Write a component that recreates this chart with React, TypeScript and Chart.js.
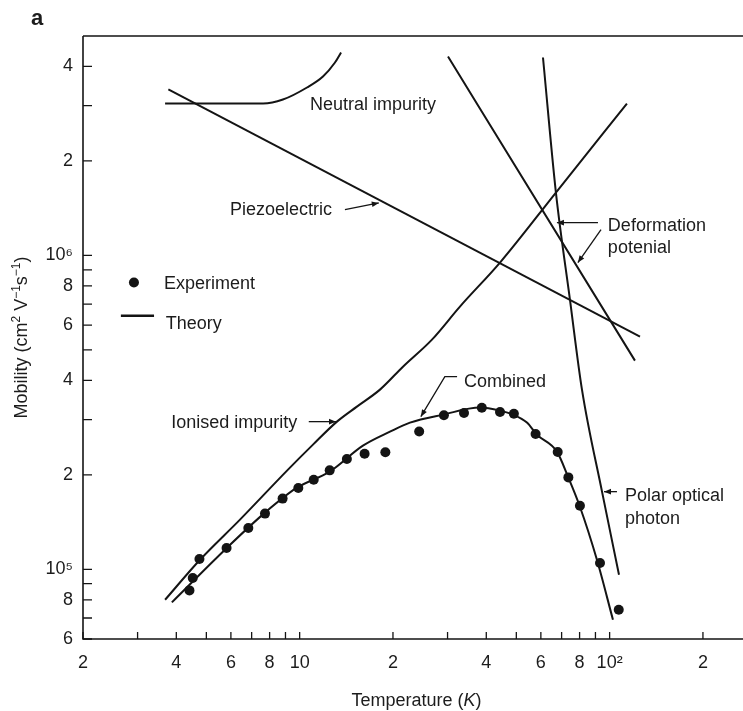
import React, { useEffect, useRef } from 'react';
import { Chart, registerables } from 'chart.js';

Chart.register(...registerables);

const FONT = '"Liberation Sans", Arial, Helvetica, sans-serif';
const INK = '#141414';
const TEXT = '#1c1c1c';

// ---- axis ticks ----
const xTickValues = [2, 3, 4, 5, 6, 7, 8, 9, 10, 20, 30, 40, 50, 60, 70, 80, 90, 100, 200];
const xTickLabels = ['2', '', '4', '', '6', '', '8', '', '10', '2', '', '4', '', '6', '', '8', '', '10²', '2'];
const yTickValues = [6e4, 7e4, 8e4, 9e4, 1e5, 2e5, 3e5, 4e5, 5e5, 6e5, 7e5, 8e5, 9e5, 1e6, 2e6, 3e6, 4e6];
const yTickLabels = ['6', '', '8', '', '10⁵', '2', '', '4', '', '6', '', '8', '', '10⁶', '2', '', '4'];

// ---- experiment (points) ----
const expT = [4.41, 4.52, 4.75, 5.81, 6.83, 7.73, 8.81, 9.9, 11.1, 12.5, 14.2, 16.2, 18.9, 24.3, 29.2, 33.9, 38.7, 44.3, 49.1, 57.7, 68.0, 73.6, 80.2, 93.1, 107];
const expMu = [8.57e4, 9.38e4, 1.079e5, 1.17e5, 1.354e5, 1.505e5, 1.68e5, 1.816e5, 1.93e5, 2.067e5, 2.247e5, 2.336e5, 2.36e5, 2.75e5, 3.095e5, 3.15e5, 3.27e5, 3.17e5, 3.13e5, 2.7e5, 2.365e5, 1.963e5, 1.595e5, 1.048e5, 7.44e4];

// ---- theory curves ----
const combinedT = [3.87, 5.83, 7.73, 9.8, 12.5, 16.0, 19.56, 22.69, 29.0, 38.2, 44.3, 48.8, 54.1, 58.3, 67.6, 73.4, 80.2, 91.0, 102.5];
const combinedMu = [7.85e4, 1.172e5, 1.516e5, 1.82e5, 2.047e5, 2.477e5, 2.745e5, 2.934e5, 3.111e5, 3.275e5, 3.203e5, 3.111e5, 2.934e5, 2.685e5, 2.371e5, 1.973e5, 1.583e5, 1.073e5, 6.91e4];

const ionisedT = [3.68, 4.77, 6.42, 9.17, 11.04, 13.19, 15.3, 18.16, 21.54, 26.72, 32.89, 44.29, 67.1, 113.7];
const ionisedMu = [8.0e4, 1.073e5, 1.44e5, 2.078e5, 2.496e5, 2.955e5, 3.299e5, 3.737e5, 4.422e5, 5.393e5, 6.871e5, 9.49e5, 1.586e6, 3.047e6];

const neutralT = [3.68, 7.62, 8.83, 10.56, 11.89, 13.0, 13.6];
const neutralMu = [3.047e6, 3.047e6, 3.137e6, 3.427e6, 3.714e6, 4.117e6, 4.43e6];

const piezoT = [3.77, 125.3];
const piezoMu = [3.378e6, 5.513e5];

const deformT = [30.1, 120.7];
const deformMu = [4.3e6, 4.622e5];

const polarT = [60.95, 67.1, 74.47, 81.43, 94.5, 107.2];
const polarMu = [4.271e6, 1.586e6, 7.233e5, 3.737e5, 1.768e5, 9.614e4];

// ---- annotation labels (data coordinates) ----
const labelTexts = ['Neutral impurity', 'Piezoelectric', 'Deformation', 'potenial', 'Experiment', 'Theory', 'Ionised impurity', 'Combined', 'Polar optical', 'photon'];
const labelT = [10.8, 5.96, 98.7, 98.7, 3.65, 3.7, 3.85, 33.9, 112, 112];
const labelMu = [3.05e6, 1.41e6, 1.254e6, 1.067e6, 8.19e5, 6.11e5, 2.95e5, 3.99e5, 1.73e5, 1.46e5];

const arrowPaths: [number, number][][] = [
  [[14.0, 1.4e6], [18.0, 1.47e6]],
  [[91.7, 1.272e6], [67.6, 1.272e6]],
  [[93.8, 1.209e6], [79.0, 9.49e5]],
  [[10.7, 2.955e5], [13.1, 2.955e5]],
  [[32.2, 4.11e5], [29.4, 4.11e5], [24.6, 3.065e5]],
  [[105.6, 1.768e5], [95.9, 1.768e5]],
];

const legendDot: [number, number] = [2.92, 8.2e5];
const legendLine: [number, number][] = [[2.65, 6.43e5], [3.39, 6.43e5]];

const pts = (xs: number[], ys: number[]) => xs.map((x, i) => ({ x, y: ys[i] }));

type Run = { t: string; sup?: boolean; italic?: boolean; bold?: boolean };

function drawRuns(ctx: CanvasRenderingContext2D, runs: Run[], x: number, baseline: number, size: number, align: 'left' | 'center') {
  const fontFor = (r: Run) => `${r.italic ? 'italic ' : ''}${r.bold ? 'bold ' : ''}${r.sup ? Math.round(size * 0.66) : size}px ${FONT}`;
  let total = 0;
  const widths = runs.map((r) => {
    ctx.font = fontFor(r);
    const w = ctx.measureText(r.t).width;
    total += w;
    return w;
  });
  let cx = align === 'center' ? x - total / 2 : x;
  ctx.textAlign = 'left';
  ctx.textBaseline = 'alphabetic';
  runs.forEach((r, i) => {
    ctx.font = fontFor(r);
    ctx.fillText(r.t, cx, r.sup ? baseline - size * 0.4 : baseline);
    cx += widths[i];
  });
}

function drawArrow(ctx: CanvasRenderingContext2D, p: [number, number][]) {
  ctx.beginPath();
  ctx.moveTo(p[0][0], p[0][1]);
  for (let i = 1; i < p.length; i++) ctx.lineTo(p[i][0], p[i][1]);
  ctx.stroke();
  const [x1, y1] = p[p.length - 2];
  const [x2, y2] = p[p.length - 1];
  const a = Math.atan2(y2 - y1, x2 - x1);
  const L = 7, W = 2.8;
  ctx.beginPath();
  ctx.moveTo(x2, y2);
  ctx.lineTo(x2 - L * Math.cos(a) + W * Math.sin(a), y2 - L * Math.sin(a) - W * Math.cos(a));
  ctx.lineTo(x2 - L * Math.cos(a) - W * Math.sin(a), y2 - L * Math.sin(a) + W * Math.cos(a));
  ctx.closePath();
  ctx.fill();
}

const decorPlugin = {
  id: 'decor',
  afterDraw(chart: any) {
    const { ctx, chartArea: a, scales } = chart;
    const xs = scales.x;
    const ys = scales.y;
    const X = (v: number) => xs.getPixelForValue(v);
    const Y = (v: number) => ys.getPixelForValue(v);
    ctx.save();
    // frame (left, bottom, top; open on the right)
    ctx.strokeStyle = INK;
    ctx.lineWidth = 1.6;
    ctx.beginPath();
    ctx.moveTo(a.left, a.top);
    ctx.lineTo(chart.width, a.top);
    ctx.moveTo(a.left, a.top);
    ctx.lineTo(a.left, a.bottom);
    ctx.lineTo(chart.width, a.bottom);
    ctx.stroke();
    // inward ticks
    ctx.lineWidth = 1.3;
    ctx.beginPath();
    xTickValues.forEach((v) => {
      const px = X(v);
      ctx.moveTo(px, a.bottom);
      ctx.lineTo(px, a.bottom - 7);
    });
    yTickValues.forEach((v) => {
      const py = Y(v);
      ctx.moveTo(a.left, py);
      ctx.lineTo(a.left + 9, py);
    });
    ctx.stroke();

    // annotation labels
    ctx.fillStyle = TEXT;
    const size = 18;
    labelTexts.forEach((t, i) => {
      drawRuns(ctx, [{ t }], X(labelT[i]), Y(labelMu[i]) + size * 0.36, size, 'left');
    });

    // arrows
    ctx.strokeStyle = INK;
    ctx.fillStyle = INK;
    ctx.lineWidth = 1.3;
    arrowPaths.forEach((path) => drawArrow(ctx, path.map(([t, m]) => [X(t), Y(m)] as [number, number])));

    // legend symbols
    ctx.beginPath();
    ctx.arc(X(legendDot[0]), Y(legendDot[1]), 5, 0, Math.PI * 2);
    ctx.fill();
    ctx.lineWidth = 2.5;
    ctx.beginPath();
    ctx.moveTo(X(legendLine[0][0]), Y(legendLine[0][1]));
    ctx.lineTo(X(legendLine[1][0]), Y(legendLine[1][1]));
    ctx.stroke();

    // axis titles
    ctx.fillStyle = TEXT;
    drawRuns(ctx, [{ t: 'Temperature (' }, { t: 'K', italic: true }, { t: ')' }], (a.left + a.right) / 2 + 6, 706, 18, 'center');
    ctx.save();
    ctx.translate(27, (a.top + a.bottom) / 2);
    ctx.rotate(-Math.PI / 2);
    drawRuns(
      ctx,
      [{ t: 'Mobility (cm' }, { t: '2', sup: true }, { t: ' V' }, { t: '−1', sup: true }, { t: 's' }, { t: '−1', sup: true }, { t: ')' }],
      0,
      0,
      18,
      'center'
    );
    ctx.restore();

    // panel letter
    drawRuns(ctx, [{ t: 'a', bold: true }], a.left - 52, 25, 22, 'left');
    ctx.restore();
  },
};

export default function App() {
  const ref = useRef<HTMLCanvasElement>(null);

  useEffect(() => {
    const canvas = ref.current;
    if (!canvas) return;
    const lineDs = (label: string, xs: number[], ys: number[]) => ({
      label,
      data: pts(xs, ys),
      showLine: true,
      borderColor: INK,
      backgroundColor: INK,
      borderWidth: 2,
      pointRadius: 0,
      cubicInterpolationMode: 'monotone' as const,
    });
    const chart = new Chart(canvas, {
      type: 'scatter',
      data: {
        datasets: [
          lineDs('Neutral impurity', neutralT, neutralMu),
          lineDs('Piezoelectric', piezoT, piezoMu),
          lineDs('Ionised impurity', ionisedT, ionisedMu),
          lineDs('Deformation potenial', deformT, deformMu),
          lineDs('Polar optical photon', polarT, polarMu),
          lineDs('Combined', combinedT, combinedMu),
          {
            label: 'Experiment',
            data: pts(expT, expMu),
            showLine: false,
            pointRadius: 5,
            pointBackgroundColor: INK,
            pointBorderWidth: 0,
            backgroundColor: INK,
            borderColor: INK,
          },
        ],
      },
      options: {
        responsive: false,
        animation: false,
        devicePixelRatio: 1,
        layout: { padding: { top: 36, right: 0, left: 0, bottom: 0 } },
        plugins: {
          legend: { display: false },
          tooltip: { enabled: false },
          title: { display: false },
        },
        scales: {
          x: {
            type: 'logarithmic',
            position: 'bottom',
            min: 2,
            max: 259.5,
            bounds: 'data',
            afterBuildTicks: (s: any) => {
              s.ticks = xTickValues.map((v) => ({ value: v }));
            },
            afterFit: (s: any) => {
              s.height = 72;
            },
            grid: { display: false, drawTicks: false },
            border: { display: false },
            ticks: {
              autoSkip: false,
              maxRotation: 0,
              minRotation: 0,
              padding: 13,
              color: TEXT,
              font: { family: FONT, size: 18 },
              callback: (_v: any, i: number) => xTickLabels[i],
            },
          },
          y: {
            type: 'logarithmic',
            position: 'left',
            min: 6e4,
            max: 5e6,
            bounds: 'data',
            afterBuildTicks: (s: any) => {
              s.ticks = yTickValues.map((v) => ({ value: v }));
            },
            afterFit: (s: any) => {
              s.width = 83;
            },
            grid: { display: false, drawTicks: false },
            border: { display: false },
            ticks: {
              autoSkip: false,
              padding: 10,
              color: TEXT,
              font: { family: FONT, size: 18 },
              callback: (_v: any, i: number) => yTickLabels[i],
            },
          },
        },
      } as any,
      plugins: [decorPlugin],
    });
    return () => chart.destroy();
  }, []);

  return (
    <div style={{ position: 'fixed', left: 0, top: 0, width: 743, height: 711, background: '#fff' }}>
      <canvas ref={ref} width={743} height={711} style={{ display: 'block' }} />
    </div>
  );
}
